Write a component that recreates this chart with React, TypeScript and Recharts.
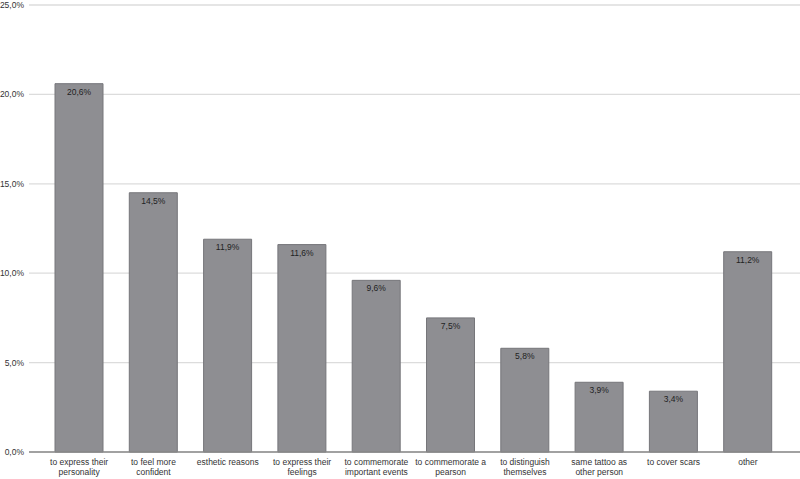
import React from 'react';
import { BarChart, Bar, XAxis, YAxis, CartesianGrid, LabelList } from 'recharts';

const reasons = [
  'to express their|personality',
  'to feel more|confident',
  'esthetic reasons',
  'to express their|feelings',
  'to commemorate|important events',
  'to commemorate a|pearson',
  'to distinguish|themselves',
  'same tattoo as|other person',
  'to cover scars',
  'other',
];
const shares = [20.6, 14.5, 11.9, 11.6, 9.6, 7.5, 5.8, 3.9, 3.4, 11.2];
const yTicks = [0, 5, 10, 15, 20, 25];

const data = reasons.map((reason, i) => ({ reason, share: shares[i] }));

const FONT = '"Liberation Sans", Arial, sans-serif';
const pct = (v: number) => `${v.toFixed(1).replace('.', ',')}%`;

// two-line category labels, split on "|"
const CategoryTick = ({ x, y, payload }: any) => {
  const lines = String(payload.value).split('|');
  return (
    <text x={x} y={y + 5} textAnchor="middle" fontSize={8.5} fill="#333" fontFamily={FONT}>
      {lines.map((line, i) => (
        <tspan key={i} x={x} dy={i === 0 ? 0 : 10}>
          {line}
        </tspan>
      ))}
    </text>
  );
};

export default function App() {
  return (
    <div style={{ position: 'absolute', left: 0, top: 0, background: '#fff' }}>
      <BarChart
        width={800}
        height={479}
        data={data}
        margin={{ top: 5, right: 0, bottom: 0, left: 0 }}
      >
        <CartesianGrid vertical={false} stroke="#dcdcdc" strokeWidth={1.3} />
        <XAxis
          dataKey="reason"
          height={27}
          interval={0}
          tickLine={false}
          axisLine={{ stroke: '#8a8a8a', strokeWidth: 1.5 }}
          padding={{ left: 13, right: 15 }}
          tick={<CategoryTick />}
        />
        <YAxis
          width={29}
          domain={[0, 25]}
          ticks={yTicks}
          tickFormatter={pct}
          axisLine={false}
          tickLine={false}
          tickSize={2}
          tickMargin={3}
          tick={{ fontSize: 8.5, fill: '#333', fontFamily: FONT }}
        />
        <Bar
          dataKey="share"
          barSize={48}
          fill="#8e8e92"
          stroke="#76767a"
          strokeWidth={1}
          isAnimationActive={false}
        >
          <LabelList
            dataKey="share"
            position="insideTop"
            offset={5}
            formatter={(v: any) => pct(Number(v))}
            style={{ fontSize: 8.5, fill: '#222', fontFamily: FONT }}
          />
        </Bar>
      </BarChart>
    </div>
  );
}
